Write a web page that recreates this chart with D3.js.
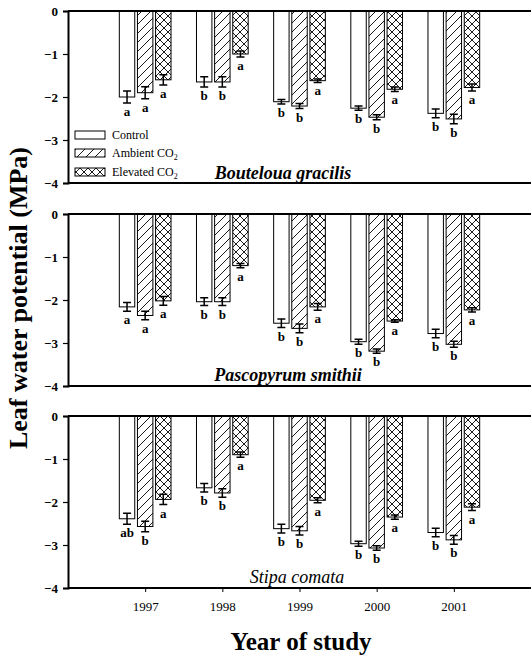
<!DOCTYPE html>
<html>
<head>
<meta charset="utf-8">
<script src="https://cdn.jsdelivr.net/npm/d3@7"></script>
<style>
  body { margin: 0; background: #fff; }
  svg { display: block; font-family: "Liberation Serif", "Times New Roman", serif; }
</style>
</head>
<body>
<svg class="main-svg" width="531" height="657"></svg>
<script>
'use strict'

// data (MPa)
const years = [1997, 1998, 1999, 2000, 2001]
const treatments = ['Control', 'Ambient CO2', 'Elevated CO2']
const species = ['Bouteloua gracilis', 'Pascopyrum smithii', 'Stipa comata']

const boutelouaMean = [
  [-2.0, -1.65, -2.11, -2.26, -2.38],
  [-1.9, -1.65, -2.21, -2.47, -2.51],
  [-1.6, -1.0, -1.62, -1.82, -1.78]
]
const boutelouaErr = [
  [0.14, 0.12, 0.05, 0.05, 0.1],
  [0.14, 0.12, 0.06, 0.06, 0.11],
  [0.12, 0.07, 0.04, 0.05, 0.08]
]
const boutelouaLetters = [
  ['a', 'b', 'b', 'b', 'b'],
  ['a', 'b', 'b', 'b', 'b'],
  ['a', 'a', 'a', 'a', 'a']
]

const pascopyrumMean = [
  [-2.16, -2.04, -2.54, -2.97, -2.78],
  [-2.36, -2.04, -2.66, -3.19, -3.03],
  [-2.02, -1.2, -2.16, -2.49, -2.23]
]
const pascopyrumErr = [
  [0.1, 0.09, 0.1, 0.06, 0.1],
  [0.1, 0.09, 0.1, 0.05, 0.07],
  [0.1, 0.05, 0.08, 0.03, 0.05]
]
const pascopyrumLetters = [
  ['a', 'b', 'b', 'b', 'b'],
  ['a', 'b', 'b', 'b', 'b'],
  ['a', 'a', 'a', 'a', 'a']
]

const stipaMean = [
  [-2.39, -1.67, -2.62, -2.97, -2.71],
  [-2.57, -1.79, -2.67, -3.07, -2.88],
  [-1.94, -0.9, -1.96, -2.35, -2.12]
]
const stipaErr = [
  [0.13, 0.1, 0.1, 0.06, 0.1],
  [0.12, 0.1, 0.1, 0.05, 0.1],
  [0.12, 0.06, 0.06, 0.05, 0.08]
]
const stipaLetters = [
  ['ab', 'b', 'b', 'b', 'b'],
  ['b', 'b', 'b', 'b', 'b'],
  ['a', 'a', 'a', 'a', 'a']
]

const yTicks = [0, -1, -2, -3, -4]

const panels = [
  { name: species[0], mean: boutelouaMean, err: boutelouaErr, letters: boutelouaLetters, top: 11, bold: true, labelX: 283, labelY: 179 },
  { name: species[1], mean: pascopyrumMean, err: pascopyrumErr, letters: pascopyrumLetters, top: 214, bold: true, labelX: 288, labelY: 381 },
  { name: species[2], mean: stipaMean, err: stipaErr, letters: stipaLetters, top: 416, bold: false, labelX: 297, labelY: 583 }
]

;(function (d3) {
  const svg = d3.select('.main-svg')
  const serif = '"Liberation Serif", "Times New Roman", serif'
  const left = 68
  const right = 531
  const panelH = 172

  const x = d3.scaleLinear().domain([1996, 2002]).range([left, right])
  const barW = x(1996.2) - x(1996)
  const step = x(1996.235) - x(1996)

  // hatch patterns
  const defs = svg.append('defs')
  const diag = defs.append('pattern')
    .attr('id', 'diag').attr('patternUnits', 'userSpaceOnUse')
    .attr('width', 9).attr('height', 9)
  diag.append('rect').attr('width', 9).attr('height', 9).attr('fill', '#fff')
  diag.append('path').attr('d', 'M-1,1 l2,-2 M0,9 l9,-9 M8,10 l2,-2')
    .attr('stroke', '#000').attr('stroke-width', 0.9)

  const cross = defs.append('pattern')
    .attr('id', 'cross').attr('patternUnits', 'userSpaceOnUse')
    .attr('width', 8).attr('height', 8)
  cross.append('rect').attr('width', 8).attr('height', 8).attr('fill', '#fff')
  cross.append('path').attr('d', 'M0,0 L8,8 M8,0 L0,8')
    .attr('stroke', '#000').attr('stroke-width', 0.9)

  const fills = ['#fff', 'url(#diag)', 'url(#cross)']

  panels.forEach((p, pi) => {
    const y = d3.scaleLinear().domain([-4, 0]).range([p.top + panelH, p.top])
    const g = svg.append('g')

    treatments.forEach((t, ti) => {
      const off = (ti - 1) * step
      const rows = years.map((yr, i) => ({
        yr: yr, v: p.mean[ti][i], e: p.err[ti][i], l: p.letters[ti][i]
      }))
      const cx = d => x(d.yr) + off

      g.selectAll(null).data(rows).join('rect')
        .attr('x', d => cx(d) - barW / 2)
        .attr('y', y(0))
        .attr('width', barW)
        .attr('height', d => y(d.v) - y(0))
        .attr('fill', fills[ti])
        .attr('stroke', '#000')
        .attr('stroke-width', 1)

      // error bars
      g.selectAll(null).data(rows).join('path')
        .attr('d', d => {
          const a = y(d.v + d.e), b = y(d.v - d.e), c = cx(d)
          return `M${c},${a}V${b}M${c - 4},${a}h8M${c - 4},${b}h8`
        })
        .attr('stroke', '#000').attr('stroke-width', 1.5).attr('fill', 'none')

      g.selectAll(null).data(rows).join('text')
        .attr('x', cx)
        .attr('y', d => y(d.v - d.e) + 13)
        .attr('text-anchor', 'middle')
        .attr('font-size', 13).attr('font-weight', 'bold')
        .text(d => d.l)
    })

    // frame lines
    g.append('line').attr('x1', left).attr('x2', right).attr('y1', y(0)).attr('y2', y(0))
      .attr('stroke', '#000').attr('stroke-width', 2)
    g.append('line').attr('x1', left).attr('x2', right).attr('y1', y(-4)).attr('y2', y(-4))
      .attr('stroke', '#000').attr('stroke-width', 2)

    const yAxis = g.append('g').attr('transform', `translate(${left},0)`)
      .call(d3.axisLeft(y).tickValues(yTicks).tickFormat(d3.format('d')).tickSize(5).tickPadding(5))
      .attr('font-family', serif).attr('font-size', 13).attr('font-weight', 'bold')
    yAxis.select('.domain').attr('stroke-width', 2)
    yAxis.selectAll('.tick line').attr('stroke-width', 1.2)

    if (pi === panels.length - 1) {
      const xAxis = g.append('g').attr('transform', `translate(0,${y(-4)})`)
        .call(d3.axisBottom(x).tickValues(years).tickFormat(d3.format('d')).tickSize(4).tickPadding(10))
        .attr('font-family', serif).attr('font-size', 13)
      xAxis.select('.domain').remove()
    }

    g.append('text')
      .attr('x', p.labelX).attr('y', p.labelY)
      .attr('text-anchor', 'middle')
      .attr('font-size', 18).attr('font-style', 'italic')
      .attr('font-weight', p.bold ? 'bold' : 'normal')
      .text(p.name)
  })

  // legend in top panel
  const legY = [135, 153, 172]
  const leg = svg.append('g')
  treatments.forEach((t, i) => {
    leg.append('rect')
      .attr('x', 75).attr('y', legY[i] - 4).attr('width', 30).attr('height', 8)
      .attr('fill', fills[i]).attr('stroke', '#000').attr('stroke-width', 1)
    const txt = leg.append('text')
      .attr('x', 112).attr('y', legY[i] + 4)
      .attr('font-size', 12)
    if (i === 0) {
      txt.text(t)
    } else {
      txt.text(t.replace('CO2', 'CO'))
      txt.append('tspan').attr('font-size', 8).attr('dy', 3).text('2')
    }
  })

  // axis titles
  svg.append('text')
    .attr('transform', 'translate(27,298) rotate(-90)')
    .attr('text-anchor', 'middle')
    .attr('font-size', 26).attr('font-weight', 'bold')
    .text('Leaf water potential (MPa)')

  svg.append('text')
    .attr('x', 301).attr('y', 650)
    .attr('text-anchor', 'middle')
    .attr('font-size', 25).attr('font-weight', 'bold')
    .text('Year of study')
})(d3)
</script>
</body>
</html>
